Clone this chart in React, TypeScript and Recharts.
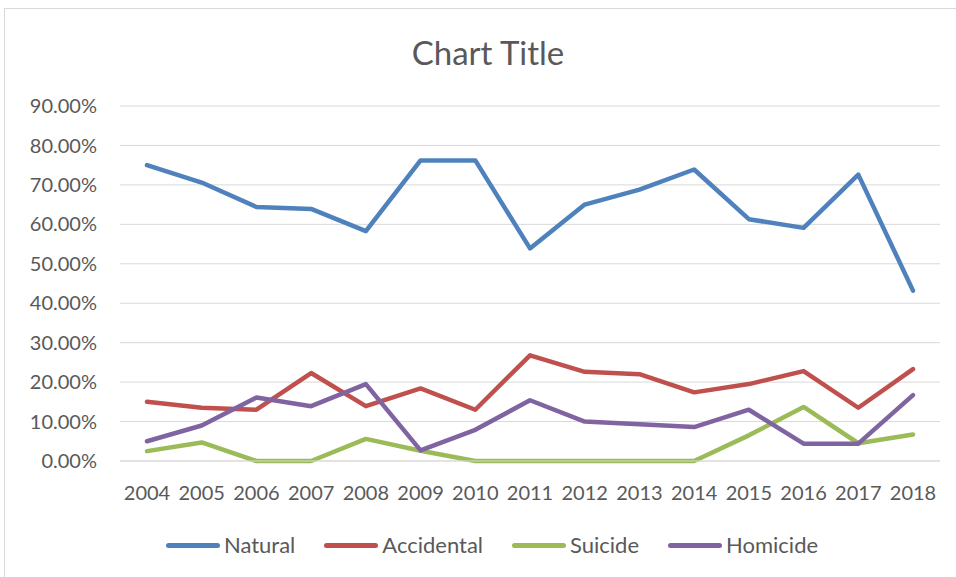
import { CartesianGrid, Line, LineChart, XAxis, YAxis } from "recharts";

const years = [
  "2004", "2005", "2006", "2007", "2008", "2009", "2010", "2011",
  "2012", "2013", "2014", "2015", "2016", "2017", "2018",
];

const natural = [
  0.75, 0.706, 0.644, 0.639, 0.583, 0.762, 0.762, 0.539,
  0.65, 0.688, 0.739, 0.613, 0.591, 0.726, 0.432,
];
const accidental = [
  0.15, 0.135, 0.13, 0.223, 0.139, 0.184, 0.13, 0.268,
  0.226, 0.22, 0.174, 0.195, 0.228, 0.135, 0.233,
];
const suicide = [
  0.025, 0.047, 0, 0, 0.056, 0.026, 0, 0,
  0, 0, 0, 0.065, 0.137, 0.045, 0.067,
];
const homicide = [
  0.05, 0.09, 0.161, 0.139, 0.195, 0.027, 0.079, 0.154,
  0.1, 0.093, 0.086, 0.13, 0.044, 0.044, 0.167,
];

const yTicks = [0, 0.1, 0.2, 0.3, 0.4, 0.5, 0.6, 0.7, 0.8, 0.9];

const series = [
  { key: "natural", name: "Natural", color: "#4F81BD" },
  { key: "accidental", name: "Accidental", color: "#C0504D" },
  { key: "suicide", name: "Suicide", color: "#9BBB59" },
  { key: "homicide", name: "Homicide", color: "#8064A2" },
];

const data = years.map((year, i) => ({
  year,
  natural: natural[i],
  accidental: accidental[i],
  suicide: suicide[i],
  homicide: homicide[i],
}));

const FONT = "Lato, 'Open Sans', sans-serif";
const TEXT = "#595959";

export default function App() {
  return (
    <div
      style={{
        position: "absolute",
        left: 0,
        top: 0,
        width: 956,
        height: 577,
        overflow: "hidden",
        background: "#fff",
        fontFamily: FONT,
      }}
    >
      {/* outer chart border, like the Excel chart area */}
      <div
        style={{
          position: "absolute",
          left: 4,
          top: 8,
          width: 970,
          height: 580,
          border: "1px solid #D9D9D9",
          boxSizing: "border-box",
        }}
      />
      <div
        style={{
          position: "absolute",
          top: 30,
          left: 0,
          width: 976,
          textAlign: "center",
          fontSize: 33,
          color: TEXT,
          lineHeight: "44px",
        }}
      >
        Chart Title
      </div>

      <LineChart
        width={956}
        height={577}
        data={data}
        margin={{ top: 106, right: 16, bottom: 0, left: 0 }}
        style={{ position: "absolute", left: 0, top: 0 }}
      >
        <CartesianGrid stroke="#D9D9D9" vertical={false} />
        <XAxis
          dataKey="year"
          height={116}
          padding={{ left: 27, right: 27 }}
          tickLine={false}
          axisLine={{ stroke: "#D9D9D9" }}
          tickMargin={19}
          tick={{ fill: TEXT, fontSize: 20, fontFamily: FONT }}
          interval={0}
        />
        <YAxis
          width={120}
          domain={[0, 0.9]}
          ticks={yTicks}
          tickLine={false}
          axisLine={false}
          tickMargin={17}
          tick={{ fill: TEXT, fontSize: 20, fontFamily: FONT }}
          tickFormatter={(v: number) => `${(v * 100).toFixed(2)}%`}
        />
        {series.map((s) => (
          <Line
            key={s.key}
            type="linear"
            dataKey={s.key}
            name={s.name}
            stroke={s.color}
            strokeWidth={4.5}
            strokeLinecap="round"
            strokeLinejoin="round"
            dot={false}
            activeDot={false}
            isAnimationActive={false}
          />
        ))}
      </LineChart>

      {/* legend */}
      <div
        style={{
          position: "absolute",
          top: 531,
          left: 0,
          width: 984,
          display: "flex",
          justifyContent: "center",
          gap: 29,
          fontSize: 22,
          color: TEXT,
          lineHeight: "28px",
        }}
      >
        {series.map((s) => (
          <div key={s.key} style={{ display: "flex", alignItems: "center" }}>
            <span
              style={{
                display: "inline-block",
                width: 54,
                height: 5,
                borderRadius: 3,
                background: s.color,
                marginRight: 4,
              }}
            />
            <span>{s.name}</span>
          </div>
        ))}
      </div>
    </div>
  );
}
